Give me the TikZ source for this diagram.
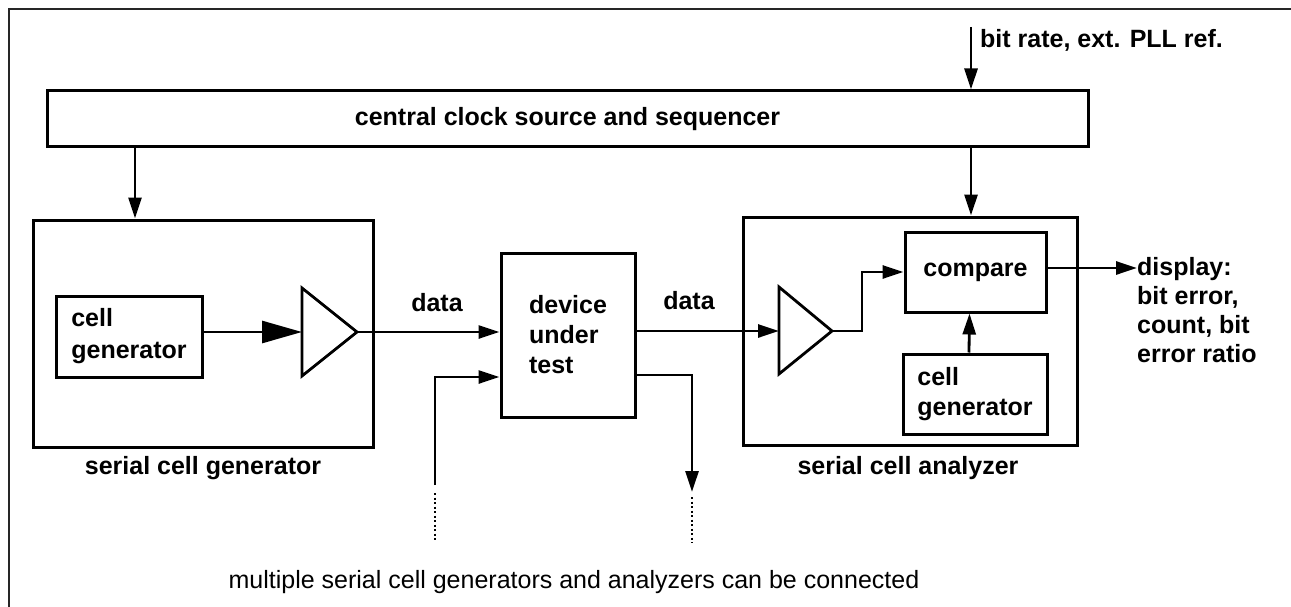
\documentclass[tikz,border=0pt]{standalone}
\usepackage{fontspec}
\setmainfont{Liberation Sans}
\usetikzlibrary{arrows.meta,calc}
\begin{document}
\begin{tikzpicture}[x=1pt,y=-1pt,
  box/.style={draw, line width=3pt, inner sep=0pt, font=\bfseries\fontsize{25}{30}\selectfont},
  lbl/.style={inner sep=0pt, font=\bfseries\fontsize{25}{30}\selectfont},
  conn/.style={line width=2.8pt, -{Triangle[length=21pt,width=13pt]}},
  bigconn/.style={line width=2.8pt, -{Triangle[length=40pt,width=22pt]}},
  plain/.style={line width=2.8pt, line join=miter},
  dots/.style={line width=1.8pt, dash pattern=on 2pt off 2.5pt}]
\useasboundingbox (0,0) rectangle (1291,607);
\fill[white] (0,0) rectangle (1291,607);
% frame
\draw[line width=2.2pt, black!85] (9,607) -- (9,9) -- (1291,9);

% clock source
\node[box, minimum width=1041pt, minimum height=56pt] (clock) at (567.5,119) {central clock source and sequencer};
\coordinate (br) at (971,27);
\node[lbl, anchor=west] (brl) at (980,40) {bit rate, ext. PLL ref.};
\draw[conn] (br) -- (clock.north -| br);

% serial cell generator
\node[box, minimum width=340pt, minimum height=227pt] (scg) at (203,333.5) {};
\node[lbl] (scgl) at (203,468) {serial cell generator};
\coordinate (c1) at (135,0);
\draw[conn] (clock.south -| c1) -- (scg.north -| c1);
\node[box, minimum width=146pt, minimum height=81pt, align=left, font=\bfseries\fontsize{25}{32}\selectfont] (cg1) at (129,336.5) {cell\\generator};
\coordinate (t1in) at (302,332);
\coordinate (t1out) at (357,332);
\draw[plain] (302,288) -- (302,376) -- (t1out) -- cycle;
\draw[bigconn] (cg1.east |- t1in) -- (t1in);

% device under test
\node[box, minimum width=134pt, minimum height=164pt, align=left] (dut) at (568,335) {device\\under\\test};
\draw[conn] (t1out) -- (t1out -| dut.west);
\node[lbl] (d1) at (437,303) {data};
\coordinate (in2) at (435,485);
\draw[conn] (in2) |- ([yshift=-42pt]dut.west);
\draw[dots] (435,493) -- (435,542);

% serial cell analyzer
\node[box, minimum width=334pt, minimum height=228pt] (sca) at (910,331) {};
\node[lbl] (scal) at (908,468) {serial cell analyzer};
\coordinate (c2) at (971,0);
\draw[conn] (clock.south -| c2) -- (sca.north -| c2);
\coordinate (t2in) at (779,331);
\coordinate (t2out) at (832,331);
\draw[plain] (779,287) -- (779,374) -- (t2out) -- cycle;
\draw[conn] (dut.east |- t2in) -- (t2in);
\node[lbl] (d2) at (689,301) {data};
\coordinate (out2) at (692,492);
\draw[conn] ([yshift=-40pt]dut.east) -| (out2);
\draw[dots] (692,497) -- (692,543);

\node[box, minimum width=141pt, minimum height=80pt] (cmp) at (975.5,272) {compare};
\draw[conn] (t2out) -- ++(30,0) |- (cmp.west);
\node[box, minimum width=144pt, minimum height=80pt, align=left] (cg2) at (975,394) {cell\\generator};
\draw[conn] ([xshift=-6pt]cg2.north) -- ([xshift=-6pt]cmp.south);

% display
\node[lbl, anchor=north west, align=left, font=\bfseries\fontsize{25}{29}\selectfont] (disp) at (1137,257) {display:\\bit error,\\count, bit\\error ratio};
\draw[conn] ([yshift=4pt]cmp.east) -- ([yshift=4pt]cmp.east -| disp.west);

% bottom note
\node[inner sep=0pt, font=\fontsize{25}{30}\selectfont] (note) at (574,582) {multiple serial cell generators and analyzers can be connected};
\end{tikzpicture}
\end{document}
